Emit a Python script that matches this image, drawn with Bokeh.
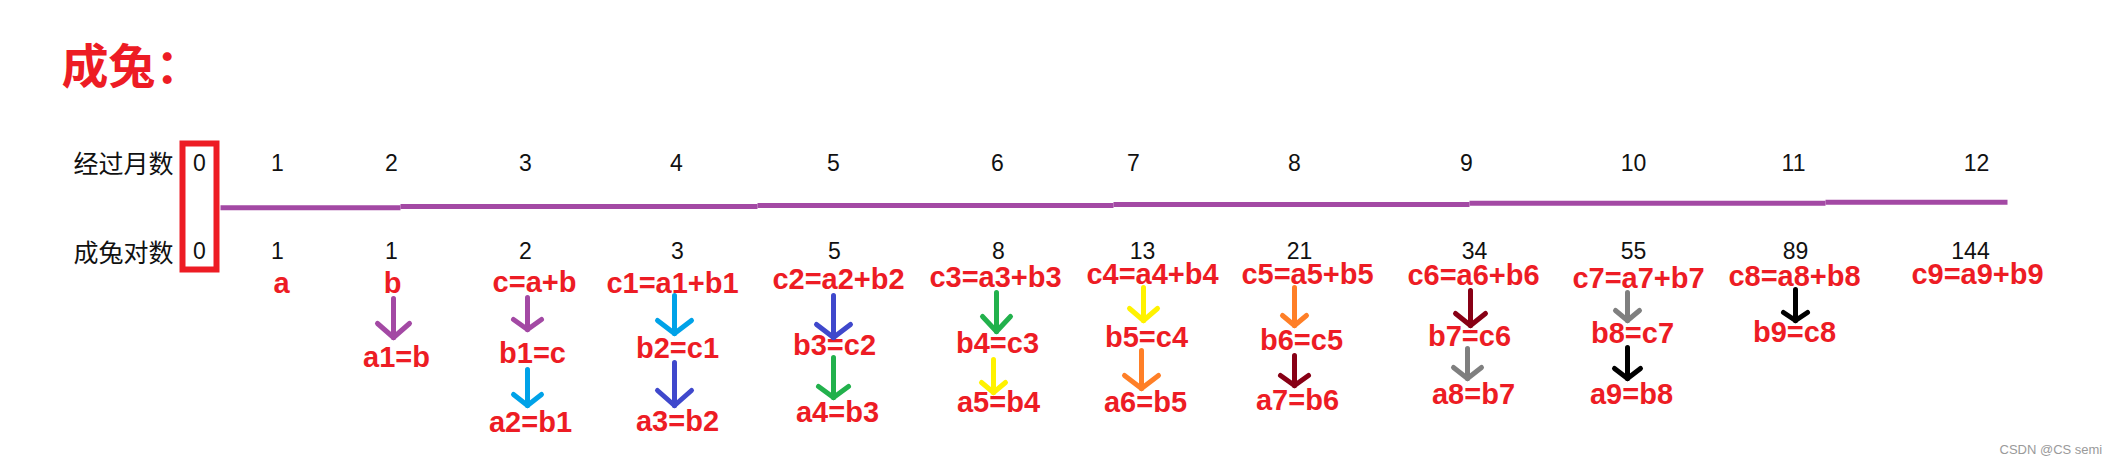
from bokeh.plotting import figure
from bokeh.models import Range1d, ColumnDataSource
from bokeh.core.properties import value
from bokeh.embed import file_html
from bokeh.resources import INLINE

# ---------------- data ----------------
title = "成兔："
row_label_months = "经过月数"
row_label_pairs = "成兔对数"
watermark = "CSDN @CS semi"

months = ["0", "1", "2", "3", "4", "5", "6", "7", "8", "9", "10", "11", "12"]
pairs = ["0", "1", "1", "2", "3", "5", "8", "13", "21", "34", "55", "89", "144"]

formula_row1 = ["a", "b", "c=a+b", "c1=a1+b1", "c2=a2+b2", "c3=a3+b3", "c4=a4+b4",
                "c5=a5+b5", "c6=a6+b6", "c7=a7+b7", "c8=a8+b8", "c9=a9+b9"]
formula_row2 = ["a1=b", "b1=c", "b2=c1", "b3=c2", "b4=c3", "b5=c4", "b6=c5",
                "b7=c6", "b8=c7", "b9=c8"]
formula_row3 = ["a2=b1", "a3=b2", "a4=b3", "a5=b4", "a6=b5", "a7=b6", "a8=b7", "a9=b8"]

# arrow colours (Paint palette)
arrow_colors = ["#A349A4", "#A349A4", "#00A2E8", "#00A2E8", "#3F48CC", "#3F48CC",
                "#22B14C", "#22B14C", "#FFF200", "#FFF200", "#FF7F27", "#FF7F27",
                "#880015", "#880015", "#7F7F7F", "#7F7F7F", "#000000", "#000000"]

# ---------------- layout (pixel positions in the 2110x466 picture) ----------------
TXT_SHIFT = -8      # small texts
TITLE_BASE = 62

month_x = [199, 277, 391, 525, 676, 833, 997, 1133, 1294, 1466, 1633, 1793, 1976]
month_base = 170 + TXT_SHIFT
pair_x = [199, 277, 391, 525, 677, 834, 998, 1142, 1299, 1474, 1633, 1795, 1970]
pair_base = 258 + TXT_SHIFT

r1_x = [281, 392, 534, 672, 838, 995, 1152, 1307, 1473, 1638, 1794, 1977]
r1_y = [282, 282, 281, 282, 278, 276, 273, 273, 274, 277, 275, 273]
r2_x = [396, 532, 677, 834, 997, 1146, 1301, 1469, 1632, 1794]
r2_y = [356, 352, 347, 344, 342, 336, 339, 335, 332, 331]
r3_x = [530, 677, 837, 998, 1145, 1297, 1473, 1631]
r3_y = [421, 420, 411, 401, 401, 399, 393, 393]

ar_x = [393, 527, 527, 674, 674, 833, 833, 996, 993, 1143, 1141, 1294, 1294, 1470, 1467, 1627, 1627, 1795]
ar_top = [298, 297, 369, 295, 362, 295, 357, 292, 359, 287, 350, 287, 355, 290, 348, 292, 347, 289]
ar_tip = [337, 329, 405, 333, 405, 337, 397, 331, 392, 320, 388, 325, 385, 325, 378, 320, 378, 320]
ar_dx = [16, 14, 14, 17, 17, 17, 15, 14, 12, 14, 17, 12, 14, 15, 14, 12, 13, 12]
ar_dy = [14, 10, 11, 13, 15, 13, 11, 15, 10, 12, 13, 10, 10, 12, 11, 10, 10, 8]

line_x = [220, 400, 757, 1113, 1469, 1825, 2007]
line_y = [207.3, 206, 205, 204, 202.7, 201.7]

RED = "#ED1C24"
PURPLE = "#A349A4"

p = figure(width=2110, height=466, x_range=Range1d(0, 2110), y_range=Range1d(466, 0),
           output_backend="svg", toolbar_location=None, min_border=0,
           x_axis_type=None, y_axis_type=None)
p.grid.visible = False
p.outline_line_color = None
p.background_fill_color = "white"
p.border_fill_color = "white"

# title
p.text(x=[61], y=[TITLE_BASE], text=[title], text_color=RED, text_font=value("Noto Sans CJK SC"),
       text_font_size="47px", text_font_style="bold", text_baseline="alphabetic", text_align="left")

# row labels
p.text(x=[73, 73], y=[month_base - 1, pair_base], text=[row_label_months, row_label_pairs],
       text_color="#111111", text_font=value("Noto Sans CJK SC"), text_font_size="25px",
       text_baseline="alphabetic", text_align="left")

# month numbers and pair counts
p.text(x=month_x, y=[month_base] * len(months), text=months, text_color="#111111",
       text_font=value("Liberation Sans"), text_font_size="23px",
       text_baseline="alphabetic", text_align="center")
p.text(x=pair_x, y=[pair_base] * len(pairs), text=pairs, text_color="#111111",
       text_font=value("Liberation Sans"), text_font_size="23px",
       text_baseline="alphabetic", text_align="center")

# red highlight box around column 0
bx = month_x[0]
p.quad(left=[bx - 17], right=[bx + 17], top=[143], bottom=[269], fill_alpha=0,
       line_color=RED, line_width=6, line_join="miter")

# purple time-line
p.segment(x0=line_x[:-1], x1=line_x[1:], y0=line_y, y1=line_y, line_color=PURPLE,
          line_width=5, line_cap="butt")

# formulas
for xs, ys, txt in ((r1_x, r1_y, formula_row1), (r2_x, r2_y, formula_row2), (r3_x, r3_y, formula_row3)):
    p.text(x=xs, y=ys, text=txt, text_color=RED,
           text_font=value("Liberation Sans"),
           text_font_size="29px", text_font_style="bold",
           text_baseline="alphabetic", text_align="center")

# arrows
src = ColumnDataSource(dict(
    x=ar_x, top=ar_top, tip=ar_tip, color=arrow_colors,
    lx=[x - d for x, d in zip(ar_x, ar_dx)],
    rx=[x + d for x, d in zip(ar_x, ar_dx)],
    ay=[t - d for t, d in zip(ar_tip, ar_dy)],
))
p.segment(x0="x", y0="top", x1="x", y1="tip", line_color="color", line_width=5,
          line_cap="round", source=src)
p.segment(x0="lx", y0="ay", x1="x", y1="tip", line_color="color", line_width=5,
          line_cap="round", source=src)
p.segment(x0="rx", y0="ay", x1="x", y1="tip", line_color="color", line_width=5,
          line_cap="round", source=src)

# watermark
p.text(x=[1999], y=[457 + TXT_SHIFT], text=[watermark], text_color="#9A9A9A",
       text_font=value("Liberation Sans"), text_font_size="13px",
       text_baseline="alphabetic", text_align="left")

open("out.html", "w").write(file_html(p, INLINE))
